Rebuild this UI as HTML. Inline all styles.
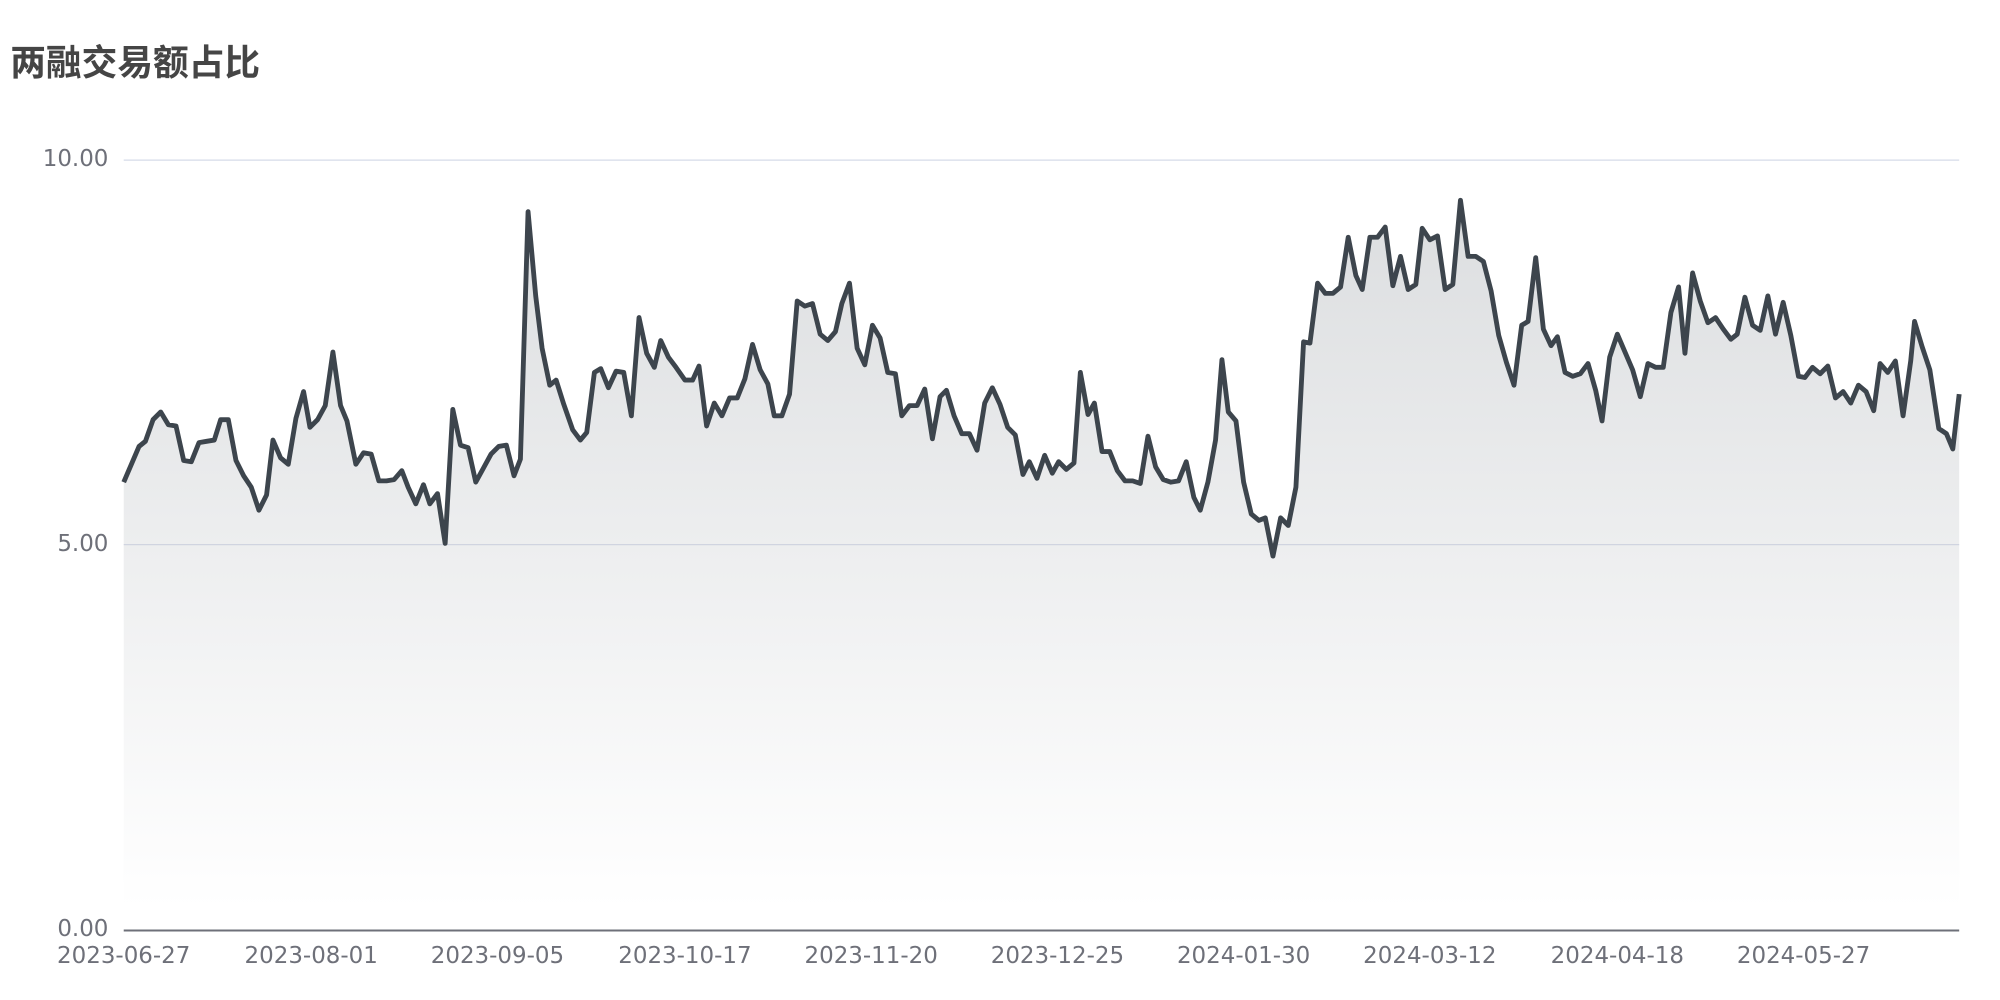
<!DOCTYPE html>
<html><head><meta charset="utf-8"><style>html,body{margin:0;padding:0;background:#fff;}svg{display:block}</style></head>
<body>
<svg width="2000" height="1000" viewBox="0 0 1568 784" xmlns="http://www.w3.org/2000/svg">
<defs><linearGradient id="g" gradientUnits="userSpaceOnUse" x1="0" y1="160" x2="0" y2="712">
<stop offset="0" stop-color="#dcdee0"/><stop offset="1" stop-color="#ffffff"/></linearGradient></defs>
<text x="8" y="59" font-family="'DejaVu Sans','Noto Sans CJK SC',sans-serif" font-size="28" font-weight="bold" fill="#454545">两融交易额占比</text>
<g font-family="'DejaVu Sans','Liberation Sans',sans-serif" font-size="18" fill="#6e7079">
<text x="85" y="130" text-anchor="end">10.00</text>
<text x="85" y="432" text-anchor="end">5.00</text>
<text x="85" y="734" text-anchor="end">0.00</text>
<g text-anchor="middle">
<text x="97" y="755">2023-06-27</text><text x="244" y="755">2023-08-01</text><text x="390" y="755">2023-09-05</text><text x="537" y="755">2023-10-17</text><text x="683" y="755">2023-11-20</text><text x="829" y="755">2023-12-25</text><text x="975" y="755">2024-01-30</text><text x="1121" y="755">2024-03-12</text><text x="1268" y="755">2024-04-18</text><text x="1414" y="755">2024-05-27</text>
</g></g>
<path fill="url(#g)" stroke="none" d="M97,378 L103,364 109,350 114,346 120,329 126,323 132,333 138,334 144,361 150,362 156,347 162,346 168,345 173,329 179,329 185,361 191,373 197,382 203,400 209,388 214,345 220,359 226,364 232,328 238,307 243,335 249,329 255,318 261,276 267,318 272,330 279,364 285,355 291,356 297,377 303,377 309,376 315,369 320,382 326,395 332,380 337,395 343,387 349,426 355,321 361,349 367,351 373,378 379,367 385,356 391,350 397,349 403,373 408,360 414,166 420,232 425,273 431,302 436,298 442,317 449,337 455,345 460,339 466,292 471,289 477,304 483,291 489,292 495,326 501,249 507,277 513,288 518,267 524,280 530,288 537,298 543,298 548,287 554,334 560,316 566,326 572,312 578,312 584,297 590,270 596,290 602,301 607,326 613,326 619,309 625,236 631,240 637,238 643,262 649,267 655,260 660,238 666,222 672,273 678,286 684,255 690,265 696,292 702,293 707,326 713,318 719,318 725,305 731,344 737,311 742,306 748,326 754,340 760,340 766,353 772,316 778,304 784,317 790,335 796,341 802,372 807,362 813,375 819,357 825,371 830,362 836,368 842,363 847,292 853,325 858,316 864,354 870,354 876,369 882,377 888,377 894,379 900,342 906,366 912,376 918,378 924,377 930,362 936,390 941,400 947,378 953,345 958,282 963,323 969,330 975,378 981,403 987,408 992,406 998,436 1004,406 1010,412 1016,382 1022,268 1027,269 1033,222 1039,230 1045,230 1051,225 1057,186 1063,216 1068,227 1074,186 1080,186 1086,178 1092,224 1098,201 1104,227 1110,223 1115,179 1121,188 1127,185 1133,227 1139,223 1145,157 1151,201 1157,201 1163,205 1169,228 1175,263 1181,284 1187,302 1193,255 1198,252 1204,202 1210,258 1216,271 1221,264 1227,292 1233,295 1239,293 1245,285 1251,306 1256,330 1262,280 1268,262 1274,276 1280,290 1286,311 1292,285 1298,288 1304,288 1310,245 1316,225 1321,277 1327,214 1333,236 1339,253 1345,249 1351,258 1357,266 1362,262 1368,233 1374,255 1380,259 1386,232 1392,262 1398,237 1404,263 1410,295 1415,296 1421,288 1427,293 1433,287 1439,312 1445,307 1451,316 1457,302 1463,307 1469,322 1474,285 1480,292 1486,283 1492,326 1498,283 1501,252 1507,272 1513,290 1520,336 1526,340 1531,352 1536,309 L1536,729 L97,729 Z"/>
<line x1="97" y1="125.5" x2="1536" y2="125.5" stroke="#d6dbe8" stroke-width="1"/>
<line x1="97" y1="427" x2="1536" y2="427" stroke="#d0d4e0" stroke-width="1"/>
<polyline fill="none" stroke="#3d454d" stroke-width="3.8" stroke-linejoin="round" points="97,378 103,364 109,350 114,346 120,329 126,323 132,333 138,334 144,361 150,362 156,347 162,346 168,345 173,329 179,329 185,361 191,373 197,382 203,400 209,388 214,345 220,359 226,364 232,328 238,307 243,335 249,329 255,318 261,276 267,318 272,330 279,364 285,355 291,356 297,377 303,377 309,376 315,369 320,382 326,395 332,380 337,395 343,387 349,426 355,321 361,349 367,351 373,378 379,367 385,356 391,350 397,349 403,373 408,360 414,166 420,232 425,273 431,302 436,298 442,317 449,337 455,345 460,339 466,292 471,289 477,304 483,291 489,292 495,326 501,249 507,277 513,288 518,267 524,280 530,288 537,298 543,298 548,287 554,334 560,316 566,326 572,312 578,312 584,297 590,270 596,290 602,301 607,326 613,326 619,309 625,236 631,240 637,238 643,262 649,267 655,260 660,238 666,222 672,273 678,286 684,255 690,265 696,292 702,293 707,326 713,318 719,318 725,305 731,344 737,311 742,306 748,326 754,340 760,340 766,353 772,316 778,304 784,317 790,335 796,341 802,372 807,362 813,375 819,357 825,371 830,362 836,368 842,363 847,292 853,325 858,316 864,354 870,354 876,369 882,377 888,377 894,379 900,342 906,366 912,376 918,378 924,377 930,362 936,390 941,400 947,378 953,345 958,282 963,323 969,330 975,378 981,403 987,408 992,406 998,436 1004,406 1010,412 1016,382 1022,268 1027,269 1033,222 1039,230 1045,230 1051,225 1057,186 1063,216 1068,227 1074,186 1080,186 1086,178 1092,224 1098,201 1104,227 1110,223 1115,179 1121,188 1127,185 1133,227 1139,223 1145,157 1151,201 1157,201 1163,205 1169,228 1175,263 1181,284 1187,302 1193,255 1198,252 1204,202 1210,258 1216,271 1221,264 1227,292 1233,295 1239,293 1245,285 1251,306 1256,330 1262,280 1268,262 1274,276 1280,290 1286,311 1292,285 1298,288 1304,288 1310,245 1316,225 1321,277 1327,214 1333,236 1339,253 1345,249 1351,258 1357,266 1362,262 1368,233 1374,255 1380,259 1386,232 1392,262 1398,237 1404,263 1410,295 1415,296 1421,288 1427,293 1433,287 1439,312 1445,307 1451,316 1457,302 1463,307 1469,322 1474,285 1480,292 1486,283 1492,326 1498,283 1501,252 1507,272 1513,290 1520,336 1526,340 1531,352 1536,309"/>
<line x1="97" y1="729.5" x2="1536" y2="729.5" stroke="#6e7079" stroke-width="1.5"/>
</svg>
</body></html>
